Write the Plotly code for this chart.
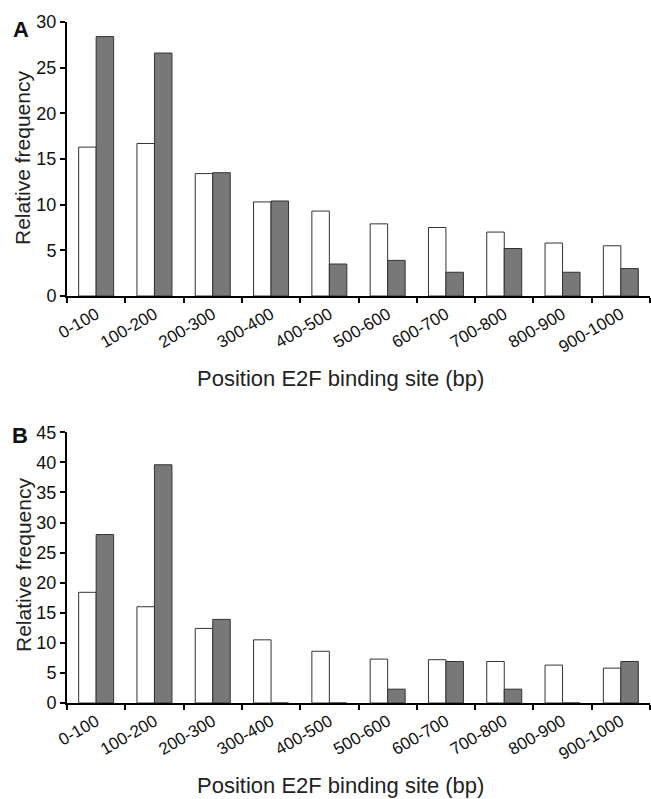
import plotly.graph_objects as go

categories = ["0-100", "100-200", "200-300", "300-400", "400-500",
              "500-600", "600-700", "700-800", "800-900", "900-1000"]

a_white = [16.3, 16.7, 13.4, 10.3, 9.3, 7.9, 7.5, 7.0, 5.8, 5.5]
a_gray = [28.4, 26.6, 13.5, 10.4, 3.5, 3.9, 2.6, 5.2, 2.6, 3.0]

b_white = [18.4, 16.0, 12.4, 10.5, 8.6, 7.3, 7.2, 6.9, 6.3, 5.8]
b_gray = [28.0, 39.6, 13.9, 0, 0, 2.3, 6.9, 2.3, 0, 6.9]

W, H = 651, 799
FONT = "Liberation Sans, Arial, sans-serif"

fig = go.Figure()
edge = dict(color="#333333", width=1)
fig.add_trace(go.Bar(x=categories, y=a_white, marker=dict(color="white", line=edge),
                     xaxis="x", yaxis="y", showlegend=False))
fig.add_trace(go.Bar(x=categories, y=a_gray, marker=dict(color="#787878", line=edge),
                     xaxis="x", yaxis="y", showlegend=False))
fig.add_trace(go.Bar(x=categories, y=b_white, marker=dict(color="white", line=edge),
                     xaxis="x2", yaxis="y2", showlegend=False))
fig.add_trace(go.Bar(x=categories, y=b_gray, marker=dict(color="#787878", line=edge),
                     xaxis="x2", yaxis="y2", showlegend=False))

def px(x):
    return x / W

def py(y):
    return 1 - y / H

xcommon = dict(type="category", tickson="boundaries", ticks="outside", ticklen=5,
               tickwidth=2, tickcolor="black", showline=True, linecolor="black",
               linewidth=2, showgrid=False, tickangle=-30, automargin=False,
               tickfont=dict(family=FONT, size=17, color="#111"),
               domain=[px(67), px(650)], range=[-0.5, 9.5], zeroline=False)
ycommon = dict(ticks="outside", ticklen=5, tickwidth=2, tickcolor="black",
               showline=True, linecolor="black", linewidth=2, showgrid=False,
               zeroline=False, dtick=5, automargin=False,
               tickfont=dict(family=FONT, size=18, color="#111"))

fig.update_layout(
    width=W, height=H,
    margin=dict(l=0, r=0, t=0, b=0),
    paper_bgcolor="white", plot_bgcolor="white",
    barmode="group", bargap=0.4, bargroupgap=0,
    xaxis=dict(**xcommon, anchor="y"),
    yaxis=dict(**ycommon, anchor="x", domain=[py(296), py(22)], range=[0, 30]),
    xaxis2=dict(**xcommon, anchor="y2"),
    yaxis2=dict(**ycommon, anchor="x2", domain=[py(703), py(432.3)], range=[0, 45]),
    annotations=[
        dict(text="<b>A</b>", x=px(21), y=py(29), xref="paper", yref="paper",
             showarrow=False, font=dict(family=FONT, size=22, color="#111"),
             xanchor="center", yanchor="middle"),
        dict(text="<b>B</b>", x=px(20), y=py(435), xref="paper", yref="paper",
             showarrow=False, font=dict(family=FONT, size=22, color="#111"),
             xanchor="center", yanchor="middle"),
        dict(text="Relative frequency", x=px(23), y=py(158), xref="paper", yref="paper",
             showarrow=False, textangle=-90, font=dict(family=FONT, size=21, color="#222"),
             xanchor="center", yanchor="middle"),
        dict(text="Relative frequency", x=px(23), y=py(565), xref="paper", yref="paper",
             showarrow=False, textangle=-90, font=dict(family=FONT, size=21, color="#222"),
             xanchor="center", yanchor="middle"),
        dict(text="Position E2F binding site (bp)", x=px(340), y=py(378), xref="paper",
             yref="paper", showarrow=False, font=dict(family=FONT, size=22, color="#222"),
             xanchor="center", yanchor="middle"),
        dict(text="Position E2F binding site (bp)", x=px(340), y=py(785), xref="paper",
             yref="paper", showarrow=False, font=dict(family=FONT, size=22, color="#222"),
             xanchor="center", yanchor="middle"),
    ],
)

fig.write_html("out.html", config={"displayModeBar": False},
               post_script="document.body.style.margin='0';document.body.style.overflow='hidden';")
